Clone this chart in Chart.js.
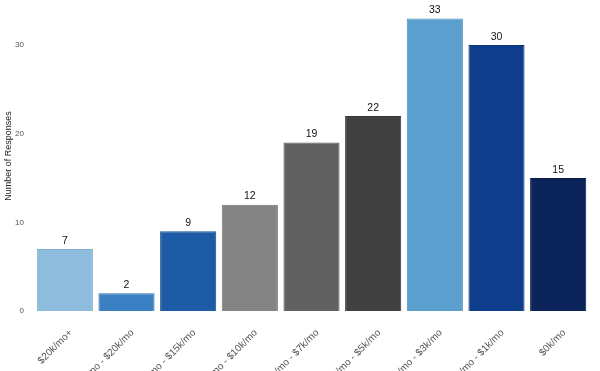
<!DOCTYPE html>
<html>
<head>
<meta charset="utf-8">
<script src="https://cdn.jsdelivr.net/npm/chart.js@4.4.1/dist/chart.umd.min.js"></script>
<style>
  html, body { margin: 0; padding: 0; background: #fff; overflow: hidden; }
  #wrap { width: 600px; height: 371px; overflow: hidden; position: relative; }
  canvas { position: absolute; left: 0; top: -14px; }
</style>
</head>
<body>
<div id="wrap">
  <canvas id="chart" width="600" height="430"></canvas>
</div>
<script>
// Revenue brackets, as they run left to right
const categories = [
    '$20k/mo+',
    '$15k/mo - $20k/mo',
    '$10k/mo - $15k/mo',
    '$7k/mo - $10k/mo',
    '$5k/mo - $7k/mo',
    '$3k/mo - $5k/mo',
    '$1k/mo - $3k/mo',
    '$0k/mo - $1k/mo',
    '$0k/mo'
];
const responses = [7, 2, 9, 12, 19, 22, 33, 30, 15];
const yTicks = [0, 10, 20, 30];

const barColors = ['#8dbcdd', '#3a80c2', '#1e5ba6', '#848484', '#616161', '#414141', '#5a9fce', '#0e3d8c', '#0b2459'];
const barBorders = ['#7eaccd', '#3071b0', '#184f93', '#767676', '#555555', '#363636', '#4f8fbd', '#0b337a', '#081c49'];

// Draws the count above each bar
const valueLabels = {
    id: 'valueLabels',
    afterDatasetsDraw(chart) {
        const ctx = chart.ctx;
        const meta = chart.getDatasetMeta(0);
        ctx.save();
        ctx.font = '10.5px "Liberation Sans", Arial, sans-serif';
        ctx.fillStyle = '#111';
        ctx.textAlign = 'center';
        ctx.textBaseline = 'bottom';
        meta.data.forEach(function(bar, i) {
            ctx.fillText(responses[i], bar.x, bar.y - 3);
        });
        ctx.restore();
    }
};

const ctx = document.getElementById('chart').getContext('2d');
new Chart(ctx, {
    type: 'bar',
    data: {
        labels: categories,
        datasets: [{
            data: responses,
            backgroundColor: barColors,
            borderColor: barBorders,
            borderWidth: 1,
            barPercentage: 0.91,
            categoryPercentage: 1
        }]
    },
    options: {
        responsive: false,
        animation: false,
        layout: { padding: { top: 1, right: 11, left: 0, bottom: 0 } },
        plugins: {
            legend: { display: false },
            tooltip: { enabled: false }
        },
        scales: {
            x: {
                grid: { display: false, drawTicks: false },
                border: { display: false },
                ticks: {
                    autoSkip: false,
                    minRotation: 45,
                    maxRotation: 45,
                    padding: 16,
                    labelOffset: 6,
                    color: '#555',
                    font: { family: '"Liberation Sans", Arial, sans-serif', size: 10 }
                },
                afterFit: function(scale) { scale.height = 105; }
            },
            y: {
                min: 0,
                max: 35,
                grid: { display: false, drawTicks: false },
                border: { display: false },
                ticks: {
                    includeBounds: false,
                    stepSize: 10,
                    padding: 10,
                    color: '#555',
                    font: { family: '"Liberation Sans", Arial, sans-serif', size: 8 },
                    callback: function(v) { return yTicks.indexOf(v) >= 0 ? v : ''; }
                },
                title: {
                    display: true,
                    text: 'Number of Responses',
                    color: '#222',
                    padding: { top: 3, bottom: 2 },
                    font: { family: '"Liberation Sans", Arial, sans-serif', size: 9 }
                },
                afterFit: function(scale) { scale.width = 34; }
            }
        }
    },
    plugins: [valueLabels]
});
</script>
</body>
</html>
